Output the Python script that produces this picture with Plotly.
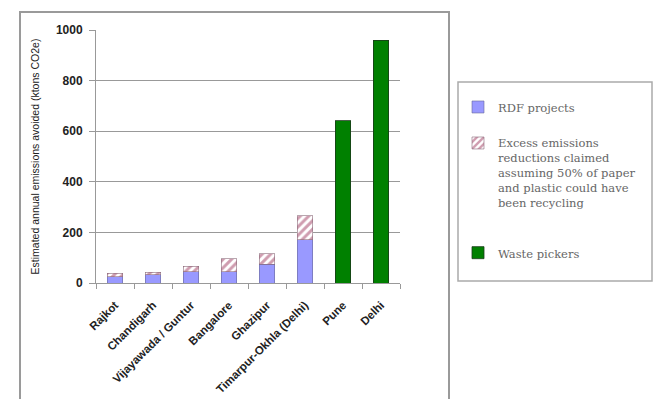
import plotly.graph_objects as go

categories = ["Rajkot", "Chandigarh", "Vijayawada / Guntur", "Bangalore", "Ghazipur",
              "Timarpur-Okhla (Delhi)", "Pune", "Delhi"]
rdf_projects = [24, 33, 45, 45, 75, 171, None, None]
excess_claimed = [15, 9, 22, 50, 41, 95, None, None]
waste_pickers = [None, None, None, None, None, None, 641, 959]
y_ticks = [0, 200, 400, 600, 800, 1000]

L, R, T, B = 96, 400, 30, 283
W, H = 656, 399

fig = go.Figure()
fig.add_trace(go.Bar(
    x=categories, y=rdf_projects, name="RDF projects", legendgroup="g0",
    marker=dict(color="#9999ff", line=dict(color="#6a6a9a", width=0.6)),
))
fig.add_trace(go.Bar(
    x=categories, y=excess_claimed, legendgroup="g1",
    name="Excess emissions<br>reductions claimed<br>assuming 50% of paper<br>and plastic could have<br>been recycling<br> ",
    marker=dict(color="white", line=dict(color="#8a6a7a", width=0.6),
                pattern=dict(shape="/", fgcolor="#a03a60", bgcolor="white", size=6, solidity=0.5)),
))
fig.add_trace(go.Bar(
    x=categories, y=waste_pickers, name="Waste pickers", legendgroup="g2",
    marker=dict(color="#008000", line=dict(color="#1a3a1a", width=0.8)),
))

def px_x(p):
    return (p - L) / (R - L)

def px_y(p):
    return (B - p) / (B - T)

shapes = [
    dict(type="rect", xref="paper", yref="paper", x0=px_x(20), x1=px_x(449),
         y0=px_y(402), y1=px_y(12), line=dict(color="#9a9a9a", width=2), layer="below"),
    dict(type="rect", xref="paper", yref="paper", x0=px_x(458), x1=px_x(652),
         y0=px_y(281), y1=px_y(82), line=dict(color="#aaaaaa", width=1.5), layer="below"),
]

fig.update_layout(
    width=W, height=H,
    margin=dict(l=L, r=W - R, t=T, b=H - B, pad=0, autoexpand=False),
    paper_bgcolor="white", plot_bgcolor="white",
    barmode="stack", bargap=0.58,
    font=dict(family="Liberation Sans, Arial, sans-serif", color="#222"),
    showlegend=True,
    legend=dict(
        x=px_x(458), y=px_y(93), xanchor="left", yanchor="top",
        font=dict(family="DejaVu Serif, serif", size=11.5, color="#666"),
        bgcolor="rgba(0,0,0,0)", borderwidth=0, traceorder="grouped",
        tracegroupgap=17, itemwidth=30, valign="top",
    ),
    shapes=shapes,
    xaxis=dict(
        type="category", tickangle=-45,
        tickfont=dict(size=11.5, color="#222", weight="bold"),
        showline=True, linecolor="#999", linewidth=1,
        ticks="outside", ticklen=5, tickcolor="#999", tickson="boundaries",
        ticklabelstandoff=10, automargin=False,
        showgrid=False,
    ),
    yaxis=dict(
        range=[0, 1000], tickvals=y_ticks, ticktext=[str(v) for v in y_ticks],
        tickfont=dict(size=12, color="#222", weight="bold"),
        showline=True, linecolor="#999", linewidth=1,
        ticks="outside", ticklen=6, tickcolor="#999", ticklabelstandoff=4,
        showgrid=True, gridcolor="#999999", gridwidth=1,
        zeroline=False, automargin=False,
        title=dict(text="Estimated annual emissions avoided (ktons CO2e)",
                   font=dict(size=10.5, color="#222"), standoff=14),
    ),
)

fig.write_html("out.html")
